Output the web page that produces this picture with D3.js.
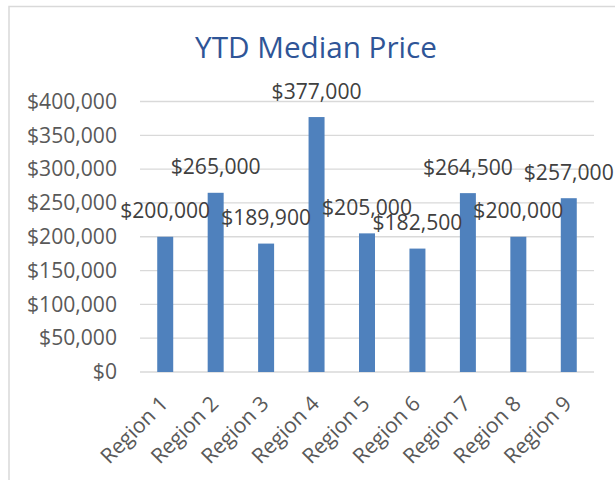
<!DOCTYPE html>
<html>
<head>
<meta charset="utf-8">
<script src="https://cdn.jsdelivr.net/npm/d3@7/dist/d3.min.js"></script>
<style>
  html, body { margin: 0; padding: 0; background: #fff; }
  svg { display: block; }
</style>
</head>
<body>
<svg id="chart" width="615" height="480"></svg>
<script>
const categories = ["Region 1", "Region 2", "Region 3", "Region 4", "Region 5", "Region 6", "Region 7", "Region 8", "Region 9"];
const medianPrice = [200000, 265000, 189900, 377000, 205000, 182500, 264500, 200000, 257000];
const yTicks = [0, 50000, 100000, 150000, 200000, 250000, 300000, 350000, 400000];
const titleText = "YTD Median Price";

const FONT = "'Open Sans', 'Noto Sans', sans-serif";
const svg = d3.select("#chart");

// measure helper to fit font size to the reference text widths
function fitSize(str, targetWidth) {
  const t = svg.append("text").attr("font-family", FONT).attr("font-size", 100).text(str);
  const w = t.node().getComputedTextLength();
  t.remove();
  return 100 * targetWidth / w;
}
const labelSize = fitSize("$400,000", 90);
const titleSize = fitSize(titleText, 242);

// chart frame
svg.append("path")
  .attr("d", "M9,480 L9,6.5 L615,6.5")
  .attr("fill", "none").attr("stroke", "#d9d9d9").attr("stroke-width", 1.5);

const x = d3.scaleBand().domain(categories).range([140, 594]).paddingInner(0.683).paddingOuter(0.3415);
const y = d3.scaleLinear().domain([0, 400000]).range([372, 101.5]);

const fmt = d3.format("$,.0f");

// gridlines
svg.append("g").selectAll("line").data(yTicks).join("line")
  .attr("x1", 140).attr("x2", 594)
  .attr("y1", d => y(d)).attr("y2", d => y(d))
  .attr("stroke", "#d9d9d9").attr("stroke-width", 1.3);

// y axis labels
const yAxis = d3.axisLeft(y).tickValues(yTicks).tickFormat(fmt).tickSize(0).tickPadding(23);
const gy = svg.append("g").attr("transform", "translate(140,0)").call(yAxis);
gy.select(".domain").remove();
gy.selectAll("text").attr("font-family", FONT).attr("font-size", labelSize).attr("fill", "#595959");

// bars
svg.append("g").selectAll("rect").data(medianPrice).join("rect")
  .attr("x", (d, i) => x(categories[i]))
  .attr("width", x.bandwidth())
  .attr("y", d => y(d))
  .attr("height", d => y(0) - y(d))
  .attr("fill", "#4f81bd");

// data labels
svg.append("g").selectAll("text").data(medianPrice).join("text")
  .attr("x", (d, i) => x(categories[i]) + x.bandwidth() / 2)
  .attr("y", d => y(d) - 18.5)
  .attr("text-anchor", "middle")
  .attr("font-family", FONT).attr("font-size", labelSize).attr("fill", "#404040")
  .text(d => fmt(d));

// x axis labels (rotated)
const xAxis = d3.axisBottom(x).tickSize(0).tickPadding(0);
const gx = svg.append("g").attr("transform", "translate(0,372)").call(xAxis);
gx.select(".domain").remove();
gx.selectAll(".tick text")
  .attr("font-family", FONT).attr("font-size", labelSize).attr("fill", "#595959")
  .attr("text-anchor", "end")
  .attr("dy", null).attr("y", null)
  .attr("transform", "translate(4,33) rotate(-45)");

// title
svg.append("text")
  .attr("x", 316).attr("y", 58)
  .attr("text-anchor", "middle")
  .attr("font-family", FONT).attr("font-size", titleSize).attr("fill", "#2f5597")
  .text(titleText);
</script>
</body>
</html>
